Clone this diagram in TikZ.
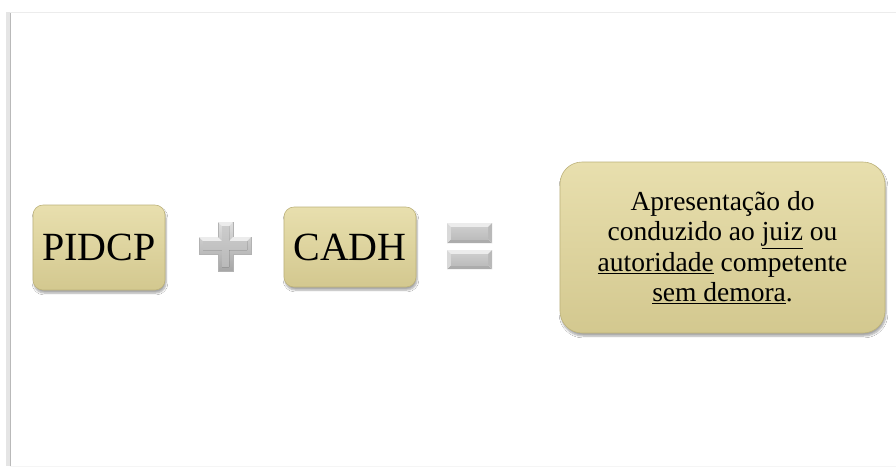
\documentclass[tikz,border=0pt]{standalone}
\usepackage{fontspec}
\setmainfont{Liberation Serif}
\usetikzlibrary{shadows,shadows.blur}
\definecolor{khakitop}{HTML}{E8DFAE}
\definecolor{khakibot}{HTML}{D3C88F}
\definecolor{khakiedge}{HTML}{BDB27A}
\tikzset{
  kbox/.style={draw=khakiedge, line width=0.6pt, top color=khakitop, bottom color=khakibot,
    rounded corners=10pt, inner sep=0pt, align=center,
    blur shadow={shadow blur steps=6, shadow xshift=1pt, shadow yshift=-3pt, shadow opacity=35}},
  bigfont/.style={font=\fontsize{40}{44}\selectfont},
  txtfont/.style={font=\fontsize{27.5}{30.5}\selectfont},
  opfill/.style={top color=gray!25, bottom color=gray!70, draw=gray!60, line width=0.4pt},
  ophi/.style={top color=gray!40, bottom color=gray!55},
  bevtop/.style={fill=gray!15},
  bevbot/.style={fill=gray!65},
  bevleft/.style={fill=gray!30},
  bevright/.style={fill=gray!55},
  bevmid/.style={top color=gray!40, bottom color=gray!52},
}
\newcommand{\bevbar}[4]{%
  \fill[bevtop] (#1,#2) -- (#3,#2) -- ({#3-4},{#2+4}) -- ({#1+4},{#2+4}) -- cycle;
  \fill[bevbot] (#1,#4) -- (#3,#4) -- ({#3-4},{#4-4}) -- ({#1+4},{#4-4}) -- cycle;
  \fill[bevleft] (#1,#2) -- ({#1+4},{#2+4}) -- ({#1+4},{#4-4}) -- (#1,#4) -- cycle;
  \fill[bevright] (#3,#2) -- ({#3-4},{#2+4}) -- ({#3-4},{#4-4}) -- (#3,#4) -- cycle;
  \fill[bevmid] ({#1+4},{#2+4}) rectangle ({#3-4},{#4-4});
}
\begin{document}
\begin{tikzpicture}[x=1pt,y=-1pt]
\useasboundingbox (0,0) rectangle (896,467);
\fill[white] (0,0) rectangle (896,467);
% frame
\fill[gray!20] (6,12) rectangle (11,466);
\draw[gray!55, line width=1pt] (10,12) -- (10,466);
\draw[gray!15, line width=0.8pt] (10,12) -- (896,12);
\draw[gray!8, line width=0.8pt] (10,466) -- (896,466);

% boxes
\node[kbox, minimum width=132pt, minimum height=85pt, bigfont] (pidcp) at (99,247.5) {PIDCP};
\node[kbox, minimum width=132pt, minimum height=80pt, bigfont] (cadh) at (350,247) {CADH};
\node[kbox, rounded corners=22pt, minimum width=325pt, minimum height=171pt, txtfont] (res) at (722.5,247.5)
  {Apresentação do\\conduzido ao \underline{juiz} ou\\\underline{autoridade} competente\\\underline{sem demora}.};

% plus sign
\coordinate (plus) at (225,246.5);
\filldraw[opfill] (218,222) -- (233,222) -- (233,237) -- (251,237) -- (251,254) -- (233,254)
  -- (233,271) -- (218,271) -- (218,254) -- (199,254) -- (199,237) -- (218,237) -- cycle;
\fill[bevtop] (218,222) -- (233,222) -- (229,226) -- (222,226) -- cycle;
\fill[bevtop] (199,237) -- (218,237) -- (222,241) -- (203,241) -- cycle;
\fill[bevtop] (233,237) -- (251,237) -- (247,241) -- (229,241) -- cycle;
\fill[ophi] (222,226) -- (229,226) -- (229,241) -- (247,241) -- (247,250) -- (229,250)
  -- (229,267) -- (222,267) -- (222,250) -- (203,250) -- (203,241) -- (222,241) -- cycle;

% equals sign
\coordinate (eq) at (469.5,246);
\bevbar{447}{223}{492}{243}
\bevbar{447}{250}{492}{269}
\end{tikzpicture}
\end{document}
